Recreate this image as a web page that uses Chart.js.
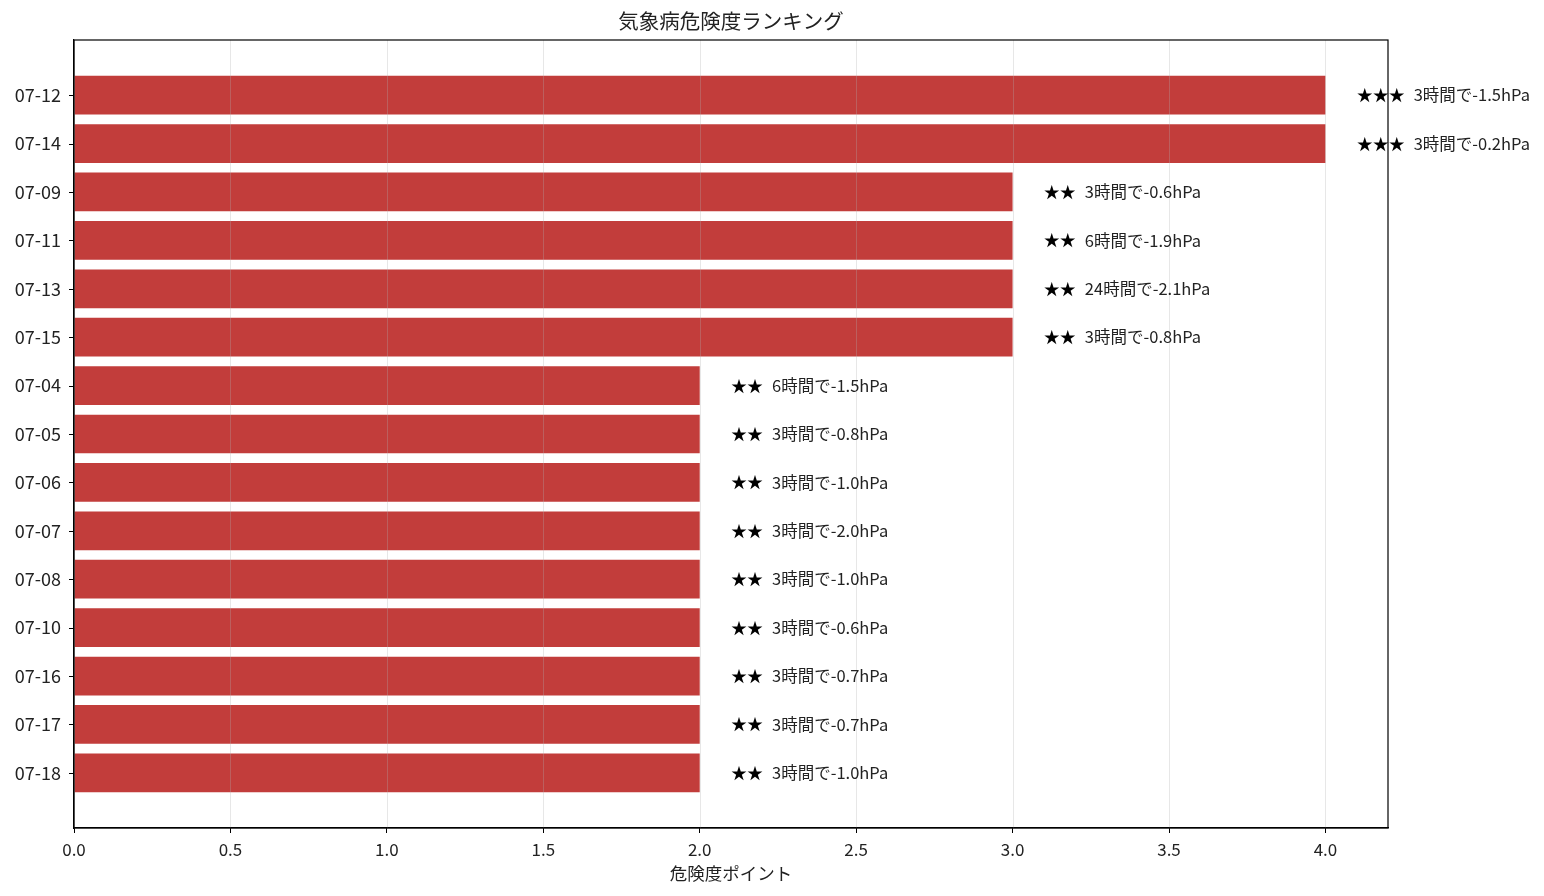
<!DOCTYPE html>
<html>
<head>
<meta charset="utf-8">
<script src="https://cdn.jsdelivr.net/npm/chart.js@4.4.1/dist/chart.umd.min.js"></script>
<style>
html,body{margin:0;padding:0;background:#fff;}
#wrap{width:1544px;height:896px;position:relative;}
</style>
</head>
<body>
<div id="wrap"><canvas id="c" width="1544" height="896"></canvas></div>
<script>
const dates = ["07-12","07-14","07-09","07-11","07-13","07-15","07-04","07-05","07-06","07-07","07-08","07-10","07-16","07-17","07-18"];
const points = [4,4,3,3,3,3,2,2,2,2,2,2,2,2,2];
const stars = ["★★★","★★★","★★","★★","★★","★★","★★","★★","★★","★★","★★","★★","★★","★★","★★"];
const notes = ["3時間で-1.5hPa","3時間で-0.2hPa","3時間で-0.6hPa","6時間で-1.9hPa","24時間で-2.1hPa","3時間で-0.8hPa","6時間で-1.5hPa","3時間で-0.8hPa","3時間で-1.0hPa","3時間で-2.0hPa","3時間で-1.0hPa","3時間で-0.6hPa","3時間で-0.7hPa","3時間で-0.7hPa","3時間で-1.0hPa"];
const xTicks = [0,0.5,1.0,1.5,2.0,2.5,3.0,3.5,4.0];
const titleText = "気象病危険度ランキング";
const xTitle = "危険度ポイント";

const FONT = "'Noto Sans CJK JP', 'Noto Sans', sans-serif";

const overlay = {
  id: 'overlay',
  afterDatasetsDraw(chart) {
    const ctx = chart.ctx, a = chart.chartArea;
    const xs = chart.scales.x, ys = chart.scales.y;
    ctx.save();
    // grid on top of bars
    ctx.strokeStyle = 'rgba(176,176,176,0.3)';
    ctx.lineWidth = 1;
    xTicks.forEach(v => {
      const px = Math.round(xs.getPixelForValue(v)) + 0.5;
      ctx.beginPath(); ctx.moveTo(px, a.top); ctx.lineTo(px, a.bottom); ctx.stroke();
    });
    // annotations
    ctx.textBaseline = 'middle';
    ctx.textAlign = 'left';
    points.forEach((v, i) => {
      const px = xs.getPixelForValue(v + 0.1);
      const py = ys.getPixelForValue(i);
      ctx.fillStyle = '#000';
      ctx.font = "16px " + FONT;
      ctx.fillText(stars[i], px, py);
      const w = ctx.measureText(stars[i]).width;
      ctx.font = "16.5px " + FONT;
      ctx.fillStyle = '#222';
      ctx.fillText(notes[i], px + w + 9, py);
    });
    // frame
    ctx.strokeStyle = '#000';
    ctx.lineWidth = 1.2;
    ctx.strokeRect(a.left, a.top, a.right - a.left, a.bottom - a.top);
    // y tick marks
    ctx.lineWidth = 1;
    dates.forEach((_, i) => {
      const py = Math.round(ys.getPixelForValue(i)) + 0.5;
      ctx.beginPath(); ctx.moveTo(a.left - 5, py); ctx.lineTo(a.left, py); ctx.stroke();
    });
    // titles
    ctx.fillStyle = '#222';
    ctx.textAlign = 'center';
    ctx.font = "20.5px " + FONT;
    ctx.fillText(titleText, (a.left + a.right) / 2, 21);
    ctx.font = "17.5px " + FONT;
    ctx.fillText(xTitle, (a.left + a.right) / 2, 873);
    ctx.restore();
  }
};

new Chart(document.getElementById('c'), {
  type: 'bar',
  data: {
    datasets: [{
      data: points.map((v, i) => ({x: v, y: i})),
      backgroundColor: '#c23d3b',
      borderWidth: 0,
      categoryPercentage: 0.8,
      barPercentage: 1.0
    }]
  },
  options: {
    indexAxis: 'y',
    responsive: false,
    animation: false,
    layout: {padding: {left: 0, right: 156, top: 40, bottom: 0}},
    plugins: {legend: {display: false}, title: {display: false}, tooltip: {enabled: false}},
    scales: {
      x: {
        type: 'linear',
        min: 0, max: 4.2,
        afterBuildTicks: s => { s.ticks = xTicks.map(v => ({value: v})); },
        afterFit: s => { s.height = 68; },
        ticks: {
          callback: v => Number(v).toFixed(1),
          font: {family: FONT, size: 17},
          color: '#222',
          padding: 6,
          maxRotation: 0
        },
        grid: {drawOnChartArea: false, tickLength: 5, color: '#000', tickWidth: 1},
        border: {display: true, color: '#000', width: 1.2}
      },
      y: {
        type: 'linear',
        reverse: true,
        offset: false,
        min: -1.14, max: 15.14,
        afterBuildTicks: s => { s.ticks = dates.map((_, i) => ({value: i})); },
        afterFit: s => { s.width = 74; },
        ticks: {
          callback: v => dates[v] ?? '',
          font: {family: FONT, size: 18},
          color: '#222',
          padding: 13,
          autoSkip: false
        },
        grid: {offset: false, drawOnChartArea: false, drawTicks: false, tickLength: 5, color: '#000', tickWidth: 1},
        border: {display: true, color: '#000', width: 1.2}
      }
    }
  },
  plugins: [overlay]
});
</script>
</body>
</html>
